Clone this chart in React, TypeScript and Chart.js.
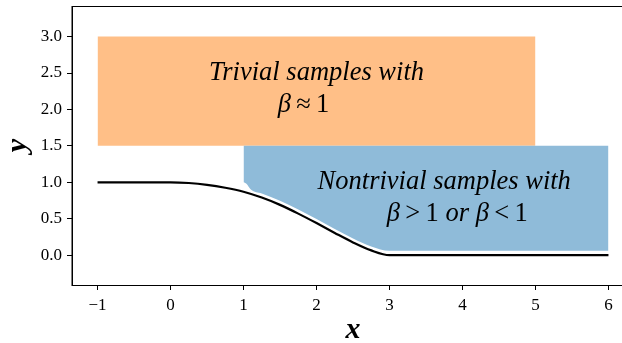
import React, { useEffect, useRef } from 'react';
import { Chart, registerables } from 'chart.js';

Chart.register(...registerables);

// ---- data ----
const curveX = [-1, 0, 0.25, 0.5, 0.75, 1.0, 1.25, 1.5, 1.75, 2.0, 2.25, 2.5, 2.75, 3.0, 6];
const curveY = [1, 1, 0.99, 0.965, 0.925, 0.87, 0.79, 0.69, 0.57, 0.44, 0.305, 0.175, 0.065, 0.0, 0.0];

const nontrivialX = [1.0, 1.04, 1.1, 1.25, 1.5, 1.75, 2.0, 2.25, 2.5, 2.75, 3.0, 6];
const nontrivialY = [1.0, 0.98, 0.9, 0.845, 0.745, 0.625, 0.495, 0.36, 0.23, 0.12, 0.06, 0.06];
const nontrivialTop = 1.5;

const trivialX = [-1, 5];
const trivialY = [3, 3];
const trivialBottom = 1.5;

const xTicks = [-1, 0, 1, 2, 3, 4, 5, 6];
const yTicks = [0, 0.5, 1, 1.5, 2, 2.5, 3];
const xLimits = [-1.35, 6.35];
const yLimits = [-0.41, 3.42];

const xLabel = 'x';
const yLabel = 'y';

type Seg = { t: string; it: boolean };
const TS = '\u2009';
const trivialLines: Seg[][] = [
  [{ t: 'Trivial samples with', it: true }],
  [{ t: 'β', it: true }, { t: TS + '≈' + TS + '1', it: false }],
];
const nontrivialLines: Seg[][] = [
  [{ t: 'Nontrivial samples with', it: true }],
  [
    { t: 'β', it: true },
    { t: TS + '>' + TS + '1 ', it: false },
    { t: 'or ', it: true },
    { t: 'β', it: true },
    { t: TS + '<' + TS + '1', it: false },
  ],
];
const trivialAnchor = { x: 2.0, y: 2.25, line2dx: -13 };
const nontrivialAnchor = { x: 3.75, y: 0.75, line2dx: 13 };

const FAMILY = '"Liberation Serif", "Times New Roman", serif';
const ORANGE = '#FFBF87';
const BLUE = '#8FBBD9';

function fmtX(v: number) {
  return v < 0 ? '\u2212' + Math.abs(v) : String(v);
}

function drawLines(ctx: CanvasRenderingContext2D, lines: Seg[][], cx: number, cy: number, dx2: number) {
  const size = 26.5;
  const baselines = [cy - 11, cy + 21];
  lines.forEach((segs, i) => {
    let total = 0;
    const widths = segs.map((s) => {
      ctx.font = `${s.it ? 'italic ' : ''}${size}px ${FAMILY}`;
      const w = ctx.measureText(s.t).width;
      total += w;
      return w;
    });
    let x = cx + (i === 1 ? dx2 : 0) - total / 2;
    segs.forEach((s, j) => {
      ctx.font = `${s.it ? 'italic ' : ''}${size}px ${FAMILY}`;
      ctx.textAlign = 'left';
      ctx.textBaseline = 'alphabetic';
      ctx.fillStyle = '#000';
      ctx.fillText(s.t, x, baselines[i]);
      x += widths[j];
    });
  });
}

const decorPlugin = {
  id: 'decor',
  afterDatasetsDraw(chart: any) {
    const { ctx, chartArea: a, scales } = chart;
    const xs = scales.x;
    const ys = scales.y;
    ctx.save();
    ctx.strokeStyle = '#000';
    ctx.lineWidth = 1;
    ctx.strokeRect(a.left, a.top + 0.5, a.right - a.left, a.bottom - a.top);
    drawLines(ctx, trivialLines, xs.getPixelForValue(trivialAnchor.x), ys.getPixelForValue(trivialAnchor.y), trivialAnchor.line2dx);
    drawLines(ctx, nontrivialLines, xs.getPixelForValue(nontrivialAnchor.x), ys.getPixelForValue(nontrivialAnchor.y), nontrivialAnchor.line2dx);
    ctx.fillStyle = '#000';
    ctx.font = `italic bold 30px ${FAMILY}`;
    ctx.textAlign = 'center';
    ctx.textBaseline = 'alphabetic';
    ctx.fillText(xLabel, (a.left + a.right) / 2, a.bottom + 53);
    ctx.translate(a.left - 46.5, (a.top + a.bottom) / 2);
    ctx.rotate(-Math.PI / 2);
    ctx.fillText(yLabel, 0, 0);
    ctx.restore();
  },
};

export default function App() {
  const ref = useRef<HTMLCanvasElement>(null);
  useEffect(() => {
    if (!ref.current) return;
    const tickFont = { family: FAMILY, size: 17 };
    const chart = new Chart(ref.current, {
      type: 'line',
      data: {
        datasets: [
          {
            data: curveX.map((x, i) => ({ x, y: curveY[i] })),
            borderColor: '#000',
            borderWidth: 2.2,
            pointRadius: 0,
            fill: false,
            cubicInterpolationMode: 'monotone',
          },
          {
            data: nontrivialX.map((x, i) => ({ x, y: nontrivialY[i] })),
            borderColor: 'rgba(0,0,0,0)',
            borderWidth: 0,
            pointRadius: 0,
            backgroundColor: BLUE,
            fill: { value: nontrivialTop },
            cubicInterpolationMode: 'monotone',
          },
          {
            data: trivialX.map((x, i) => ({ x, y: trivialY[i] })),
            borderColor: 'rgba(0,0,0,0)',
            borderWidth: 0,
            pointRadius: 0,
            backgroundColor: ORANGE,
            fill: { value: trivialBottom },
          },
        ],
      },
      options: {
        animation: false,
        responsive: false,
        devicePixelRatio: 1,
        layout: { padding: { top: 6, right: 6, left: 0, bottom: 0 } },
        plugins: { legend: { display: false }, tooltip: { enabled: false } },
        scales: {
          x: {
            type: 'linear',
            min: xLimits[0],
            max: xLimits[1],
            afterBuildTicks: (s: any) => {
              s.ticks = xTicks.map((v) => ({ value: v }));
            },
            afterFit: (s: any) => {
              s.height = 58;
              s.paddingLeft = 0;
              s.paddingRight = 0;
            },
            grid: { drawOnChartArea: false, drawTicks: true, tickLength: 5, color: '#000', tickWidth: 1 },
            border: { display: true, color: '#000', width: 1 },
            ticks: { color: '#000', font: tickFont, padding: 5, autoSkip: false, maxRotation: 0, callback: (v: any) => fmtX(Number(v)) },
          },
          y: {
            type: 'linear',
            min: yLimits[0],
            max: yLimits[1],
            afterBuildTicks: (s: any) => {
              s.ticks = yTicks.map((v) => ({ value: v }));
            },
            afterFit: (s: any) => {
              s.width = 72;
              s.paddingTop = 0;
              s.paddingBottom = 0;
            },
            grid: { drawOnChartArea: false, drawTicks: true, tickLength: 5, color: '#000', tickWidth: 1 },
            border: { display: true, color: '#000', width: 1 },
            ticks: { color: '#000', font: tickFont, padding: 5, autoSkip: false, callback: (v: any) => Number(v).toFixed(1) },
          },
        },
      },
      plugins: [decorPlugin],
    } as any);
    return () => chart.destroy();
  }, []);
  return (
    <div style={{ position: 'absolute', left: 0, top: 0, width: 622, height: 343, overflow: 'hidden', background: '#fff' }}>
      <canvas ref={ref} width={640} height={343} style={{ display: 'block', width: 640, height: 343 }} />
    </div>
  );
}
